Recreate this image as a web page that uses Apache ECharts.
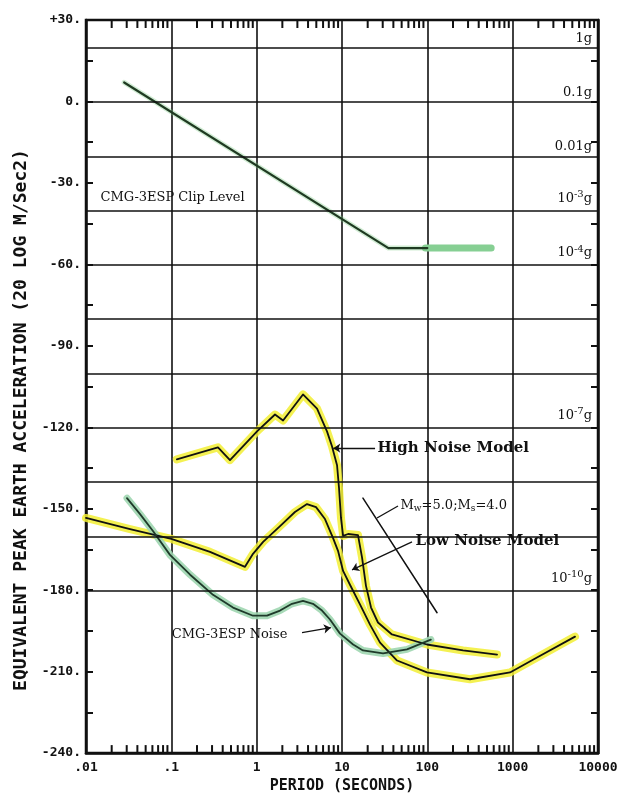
<!DOCTYPE html>
<html>
<head>
<meta charset="utf-8">
<script src="https://cdn.jsdelivr.net/npm/echarts@6/dist/echarts.min.js"></script>
<style>
  html, body { margin: 0; padding: 0; background: #fff; }
  #chart { width: 629px; height: 799px; }
</style>
</head>
<body>
<div id="chart"></div>
<script>
// Period (s) against equivalent peak earth acceleration, 20 log m/s^2
const yMin = -240
const yMax = 30
const periodLabels = [".01", ".1", "1", "10", "100", "1000", "10000"]

const clipLevel = [[0.028, 7], [35, -54], [100, -54]]
const clipExtension = [[95, -54], [560, -54]]

const highNoise = [
  [0.116, -131.8], [0.352, -127.4], [0.487, -132.1], [1.01, -121.5], [1.64, -115.3],
  [2.04, -117.5], [3.49, -107.9], [5.1, -113.1], [6.67, -121.5], [7.63, -127.0],
  [8.75, -134.0], [9.23, -142.4], [9.73, -153.4], [10.3, -160.0], [11.8, -159.3],
  [15.4, -159.7], [17.2, -168.1], [19.1, -178.4], [21.9, -186.4], [26.4, -191.9],
  [38.5, -196.3], [99, -200.0], [262, -202.2], [656, -203.7],
]

const lowNoise = [
  [0.01, -153.4], [0.0328, -157.5], [0.1, -161.1], [0.284, -165.9], [0.73, -171.4],
  [0.906, -166.6], [1.19, -162.2], [1.88, -156.4], [2.81, -151.2], [3.89, -148.3],
  [4.96, -149.4], [6.32, -153.8], [7.86, -160.8], [8.98, -165.5], [10.3, -172.9],
  [12.4, -178.0], [16.3, -185.3], [21.3, -192.7], [27.9, -199.3], [44.2, -205.9],
  [99, -210.3], [316, -212.8], [931, -210.3], [1928, -204.8], [5380, -197.1],
]

const cmgNoise = [
  [0.0302, -146.1], [0.043, -152.0], [0.0609, -158.2], [0.0964, -167.0], [0.166, -174.3],
  [0.308, -181.7], [0.528, -186.4], [0.906, -189.4], [1.32, -189.4], [1.88, -187.5],
  [2.59, -185.0], [3.49, -183.9], [4.57, -185.0], [5.83, -187.5], [7.23, -190.8],
  [9.48, -196.0], [13.5, -200.0], [17.6, -202.2], [30.3, -203.3], [57.8, -201.8],
  [110, -198.2],
]

const magnitudeLine = [[17.6, -146.1], [130, -188.3]]

// horizontal g reference lines (20 log 9.81 = 19.8 dB for 1 g)
const gLevels = [19.8, -0.2, -20.2, -40.2, -60.2, -80.2, -100.2, -120.2, -140.2, -160.2, -180.2]
const gLabels = ["1g", "0.1g", "0.01g", "10{sup|-3}g", "10{sup|-4}g", "", "", "10{sup|-7}g", "", "", "10{sup|-10}g"]

const annotationText = ["CMG-3ESP Clip Level", "High Noise Model", "Low Noise Model", "CMG-3ESP Noise", "M{s|w}=5.0;M{s|s}=4.0"]
const annotationAt = [[0.0146, -35.3], [25.7, -127.7], [71.8, -161.9], [0.1, -196.3], [47.9, -149.0]]
const annotationBold = [false, true, true, false, false]

const pointers = [
  [[24.4, -127.7], [7.9, -127.7]],
  [[66.1, -162.2], [13.1, -172.5]],
  [[3.4, -195.6], [7.4, -193.8]],
  [[45.3, -149.0], [25.7, -153.4]],
]

const minorTicks = []
for (let d = -2; d < 4; d++) {
  for (let m = 2; m <= 9; m++) minorTicks.push([+(m * Math.pow(10, d)).toPrecision(3), yMin])
}

const chart = echarts.init(document.getElementById("chart"))

const yellow = "#f2ee34"
const ink = "#111"
const monoFont = "DejaVu Sans Mono"

function curve(data, color, width, z, opacity) {
  return {
    type: "line",
    data: data,
    symbol: "none",
    silent: true,
    z: z,
    lineStyle: { color: color, width: width, opacity: opacity == null ? 1 : opacity, cap: "round", join: "round" },
  }
}

const option = {
  animation: false,
  backgroundColor: "#fff",
  grid: {
    left: 86, right: 31, top: 20, bottom: 43,
    show: true, borderColor: ink, borderWidth: 2.5,
  },
  xAxis: {
    type: "log",
    logBase: 10,
    min: 0.01,
    max: 10000,
    name: "PERIOD (SECONDS)",
    nameLocation: "middle",
    nameGap: 24,
    nameTextStyle: { fontFamily: monoFont, fontWeight: "bold", fontSize: 15, color: ink },
    axisLine: { onZero: false, lineStyle: { color: ink, width: 2.5 } },
    axisTick: { show: false },
    axisLabel: {
      fontFamily: monoFont, fontWeight: "bold", fontSize: 13, color: ink, margin: 8,
      formatter: (v) => periodLabels[Math.round(Math.log10(v)) + 2],
    },
    splitLine: { show: true, lineStyle: { color: ink, width: 1.6 } },
  },
  yAxis: [
    {
      type: "value",
      min: yMin, max: yMax, interval: 15,
      axisLine: { lineStyle: { color: ink, width: 2.5 } },
      axisTick: { inside: true, length: 7, lineStyle: { width: 2, color: ink } },
      axisLabel: {
        fontFamily: monoFont, fontWeight: "bold", fontSize: 13, color: ink, margin: 5,
        formatter: (v) => (v % 30 === 0 ? (v > 0 ? "+" + v : v) + "." : ""),
      },
      splitLine: { show: false },
    },
    {
      type: "value",
      position: "right",
      min: yMin, max: yMax, interval: 15,
      axisLine: { show: true, lineStyle: { color: ink, width: 2.5 } },
      axisTick: { inside: true, length: 7, lineStyle: { width: 2, color: ink } },
      axisLabel: { show: false },
      splitLine: { show: false },
    },
  ],
  graphic: [
    {
      type: "text",
      x: 21, y: 420,
      rotation: Math.PI / 2,
      style: {
        text: "EQUIVALENT PEAK EARTH ACCELERATION (20 LOG M/Sec2)",
        font: "bold 18px " + monoFont,
        fill: ink,
        textAlign: "center",
        textVerticalAlign: "middle",
      },
    },
  ],
  series: [
    {
      type: "custom",
      data: minorTicks,
      silent: true,
      z: 5,
      renderItem: (params, api) => {
        const x = api.value(0)
        const b = api.coord([x, yMin])
        const t = api.coord([x, yMax])
        return {
          type: "group",
          children: [
            { type: "line", shape: { x1: b[0], y1: b[1], x2: b[0], y2: b[1] - 8 }, style: { stroke: ink, lineWidth: 2 } },
            { type: "line", shape: { x1: t[0], y1: t[1], x2: t[0], y2: t[1] + 8 }, style: { stroke: ink, lineWidth: 2 } },
          ],
        }
      },
      markLine: {
        silent: true,
        symbol: "none",
        lineStyle: { color: ink, width: 1.5, type: "solid" },
        label: {
          position: "insideEndTop",
          distance: [6, 3],
          fontFamily: "DejaVu Serif",
          fontSize: 13,
          color: ink,
          rich: { sup: { fontFamily: "DejaVu Serif", fontSize: 10, color: ink, padding: [0, 0, 8, 0] } },
        },
        data: gLevels.map((v, i) => ({
          yAxis: v,
          label: { show: gLabels[i] !== "", formatter: gLabels[i] },
        })),
      },
    },
    curve(clipLevel, "rgba(120,200,130,0.35)", 5, 2),
    curve(clipLevel, "#1f3a22", 2.2, 4),
    curve(clipExtension, "#86cf93", 7, 3),
    curve(highNoise, yellow, 8, 2, 0.85),
    curve(highNoise, ink, 1.8, 4),
    curve(lowNoise, yellow, 8, 2, 0.85),
    curve(lowNoise, ink, 1.8, 4),
    curve(cmgNoise, "#9fd6b0", 7, 2, 0.9),
    curve(cmgNoise, "#1f3a2a", 1.8, 4),
    curve(magnitudeLine, ink, 1.5, 4),
    {
      type: "scatter",
      silent: true,
      z: 6,
      symbolSize: 1,
      itemStyle: { color: "transparent", opacity: 1 },
      data: annotationAt.map((p, i) => ({
        value: p,
        label: {
          show: true,
          position: "right",
          distance: 0,
          formatter: annotationText[i],
          fontFamily: "DejaVu Serif",
          fontWeight: annotationBold[i] ? "bold" : "normal",
          fontSize: annotationBold[i] ? 15 : 13,
          color: ink,
          opacity: 1,
          rich: { s: { fontFamily: "DejaVu Serif", fontSize: 9, color: ink, padding: [6, 0, 0, 0] } },
        },
      })),
      markLine: {
        silent: true,
        symbol: ["none", "arrow"],
        symbolSize: 7,
        label: { show: false },
        lineStyle: { color: ink, width: 1.3, type: "solid", opacity: 1 },
        data: pointers.map((p, i) => [
          { coord: p[0] },
          i === 3 ? { coord: p[1], symbol: "none" } : { coord: p[1] },
        ]),
      },
    },
  ],
}

chart.setOption(option)
</script>
</body>
</html>
